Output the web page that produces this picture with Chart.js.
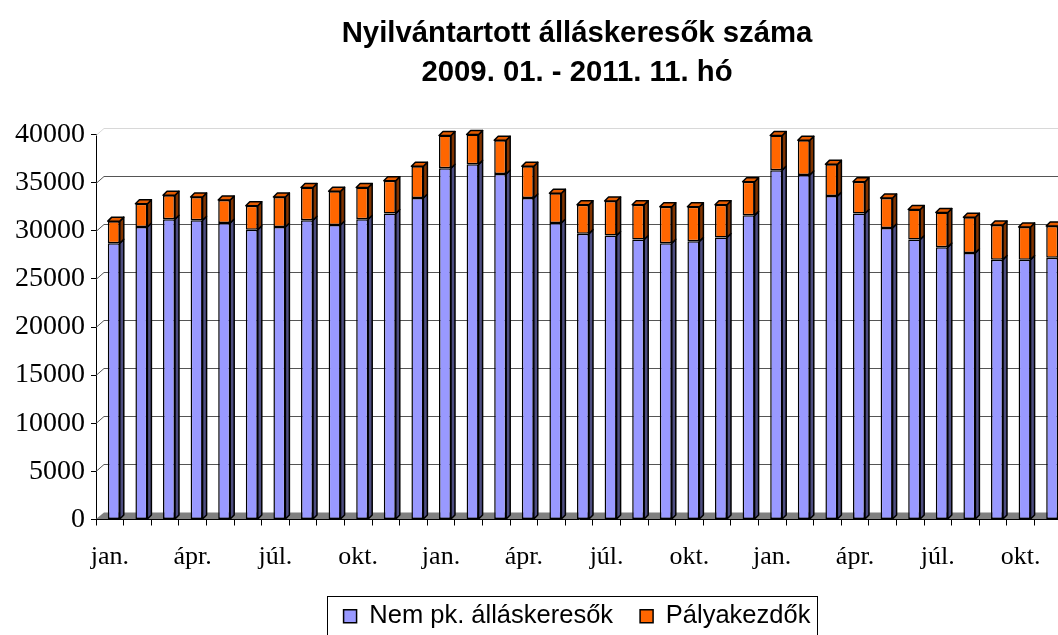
<!DOCTYPE html>
<html lang="hu">
<head>
<meta charset="UTF-8">
<title>Nyilvántartott álláskeresők száma</title>
<script src="https://cdn.jsdelivr.net/npm/chart.js"></script>
<style>
  html, body { margin: 0; padding: 0; background: #fff; overflow: hidden; }
  #chart { display: block; }
</style>
</head>
<body>
<canvas id="chart" width="1154" height="639"></canvas>
<script>
// 2009.01 - 2011.11, monthly
const months = [
  'jan.', 'febr.', 'márc.', 'ápr.', 'máj.', 'jún.', 'júl.', 'aug.', 'szept.', 'okt.', 'nov.', 'dec.',
  'jan.', 'febr.', 'márc.', 'ápr.', 'máj.', 'jún.', 'júl.', 'aug.', 'szept.', 'okt.', 'nov.', 'dec.',
  'jan.', 'febr.', 'márc.', 'ápr.', 'máj.', 'jún.', 'júl.', 'aug.', 'szept.', 'okt.', 'nov.'
];
const nemPk = [
  28700, 30400, 31200, 31100, 30800, 30100, 30400, 31100, 30600, 31200, 31800, 33400,
  36500, 36900, 35900, 33400, 30800, 29700, 29500, 29100, 28700, 28900, 29300, 31600,
  36300, 35800, 33600, 31800, 30300, 29100, 28300, 27700, 27000, 27000, 27200
];
const palyakezdok = [
  2300, 2400, 2500, 2400, 2400, 2500, 3100, 3400, 3500, 3300, 3400, 3300,
  3400, 3100, 3500, 3300, 3100, 3000, 3600, 3600, 3800, 3600, 3400, 3500,
  3600, 3600, 3300, 3300, 3100, 3100, 3600, 3700, 3600, 3400, 3300
];

// excel-ish 3d look: back wall offset, bar depth
const WALL_DX = 8, WALL_DY = 7;
const BAR_SHIFT = 4, BAR_D = 4;

const excel3d = {
  id: 'excel3d',
  beforeDatasetsDraw(chart) {
    const { ctx, chartArea: a, scales: { y } } = chart;
    ctx.save();
    // floor
    ctx.fillStyle = '#808080';
    ctx.beginPath();
    ctx.moveTo(a.left, a.bottom - 0.5);
    ctx.lineTo(a.right, a.bottom - 0.5);
    ctx.lineTo(a.right + WALL_DX, a.bottom - WALL_DY);
    ctx.lineTo(a.left + WALL_DX, a.bottom - WALL_DY);
    ctx.closePath();
    ctx.fill();
    // back wall grid lines
    y.ticks.forEach(t => {
      if (t.value === 0) return;
      const py = Math.round(y.getPixelForValue(t.value)) + 0.5;
      ctx.strokeStyle = t.value === y.max ? '#d8d8d8' : '#555';
      ctx.lineWidth = 1;
      ctx.beginPath();
      ctx.moveTo(a.left, py);
      ctx.lineTo(a.left + WALL_DX, py - WALL_DY);
      ctx.lineTo(a.right + WALL_DX + 20, py - WALL_DY);
      ctx.stroke();
    });
    ctx.restore();
    ctx.save();
    ctx.translate(BAR_SHIFT, 0);
  },
  afterDatasetsDraw(chart) {
    const ctx = chart.ctx;
    const metas = chart.getSortedVisibleDatasetMetas();
    metas.forEach((meta, di) => {
      const ds = chart.data.datasets[meta.index];
      meta.data.forEach(bar => {
        const { x, y, base, width } = bar.getProps(['x', 'y', 'base', 'width'], true);
        const l = x - width / 2, r = x + width / 2;
        ctx.lineWidth = 1.5;
        ctx.strokeStyle = '#000';
        ctx.lineJoin = 'round';
        // side
        ctx.fillStyle = ds.sideColor;
        ctx.beginPath();
        ctx.moveTo(r, base);
        ctx.lineTo(r, y);
        ctx.lineTo(r + BAR_D, y - BAR_D);
        ctx.lineTo(r + BAR_D, base - BAR_D);
        ctx.closePath();
        ctx.fill();
        ctx.stroke();
        // top only on the highest stack part
        if (di === metas.length - 1) {
          ctx.fillStyle = ds.topColor;
          ctx.beginPath();
          ctx.moveTo(l, y);
          ctx.lineTo(l + BAR_D, y - BAR_D);
          ctx.lineTo(r + BAR_D, y - BAR_D);
          ctx.lineTo(r, y);
          ctx.closePath();
          ctx.fill();
          ctx.stroke();
        }
      });
    });
    ctx.restore();
  }
};

const legendFrame = {
  id: 'legendFrame',
  afterDraw(chart) {
    const lg = chart.legend;
    const hb = lg.legendHitBoxes;
    if (!hb || !hb.length) return;
    const ctx = chart.ctx;
    const first = hb[0], last = hb[hb.length - 1];
    const x0 = Math.round(first.left - 17) + 0.5;
    const x1 = Math.round(last.left + last.width + 7) + 0.5;
    const y0 = Math.round(first.top - 8) + 0.5;
    ctx.save();
    ctx.strokeStyle = '#000';
    ctx.lineWidth = 1;
    ctx.strokeRect(x0, y0, x1 - x0, lg.bottom + 20 - y0);
    ctx.restore();
  }
};

new Chart(document.getElementById('chart'), {
  type: 'bar',
  data: {
    labels: months,
    datasets: [
      {
        label: 'Nem pk. álláskeresők',
        data: nemPk,
        backgroundColor: '#9999ff',
        sideColor: '#4d4d80',
        topColor: '#b3b3ff',
        borderColor: '#000',
        borderWidth: 1.5,
        borderSkipped: false
      },
      {
        label: 'Pályakezdők',
        data: palyakezdok,
        backgroundColor: '#ff6600',
        sideColor: '#803300',
        topColor: '#e65c00',
        borderColor: '#000',
        borderWidth: 1.5,
        borderSkipped: false
      }
    ]
  },
  options: {
    responsive: false,
    animation: false,
    barPercentage: 0.434,
    categoryPercentage: 1,
    layout: { padding: 0 },
    scales: {
      x: {
        stacked: true,
        grid: { display: true, drawOnChartArea: false, offset: true, tickLength: 6, color: '#000' },
        border: { color: '#000' },
        ticks: {
          autoSkip: false,
          maxRotation: 0,
          padding: 16,
          color: '#000',
          font: { family: 'Liberation Serif', size: 26 },
          callback: (v, i) => (i % 3 === 0 ? months[i] : '')
        },
        afterFit: s => { s.height = 57; }
      },
      y: {
        stacked: true,
        min: 0,
        max: 40000,
        ticks: {
          stepSize: 5000,
          padding: 6,
          color: '#000',
          font: { family: 'Liberation Serif', size: 28 },
          callback: v => String(v)
        },
        grid: { drawOnChartArea: false, tickLength: 5, color: '#000' },
        border: { color: '#000' },
        afterFit: s => { s.width = 96; }
      },
      // empty right axis, keeps title/legend centred like the original (cut off) chart
      yR: {
        position: 'right',
        display: true,
        grid: { display: false },
        ticks: { display: false },
        border: { display: false },
        afterFit: s => { s.width = 92; }
      }
    },
    plugins: {
      title: {
        display: true,
        text: ['Nyilvántartott álláskeresők száma', '2009. 01. - 2011. 11. hó'],
        color: '#000',
        font: { family: 'Liberation Sans', size: 29.3, weight: 'bold', lineHeight: 1.34 },
        padding: { top: 14, bottom: 42 }
      },
      legend: {
        position: 'bottom',
        labels: {
          color: '#000',
          font: { family: 'Liberation Sans', size: 25.5, lineHeight: 1 },
          boxWidth: 13,
          boxHeight: 13,
          padding: 27
        }
      },
      tooltip: { enabled: false }
    }
  },
  plugins: [excel3d, legendFrame]
});
</script>
</body>
</html>
